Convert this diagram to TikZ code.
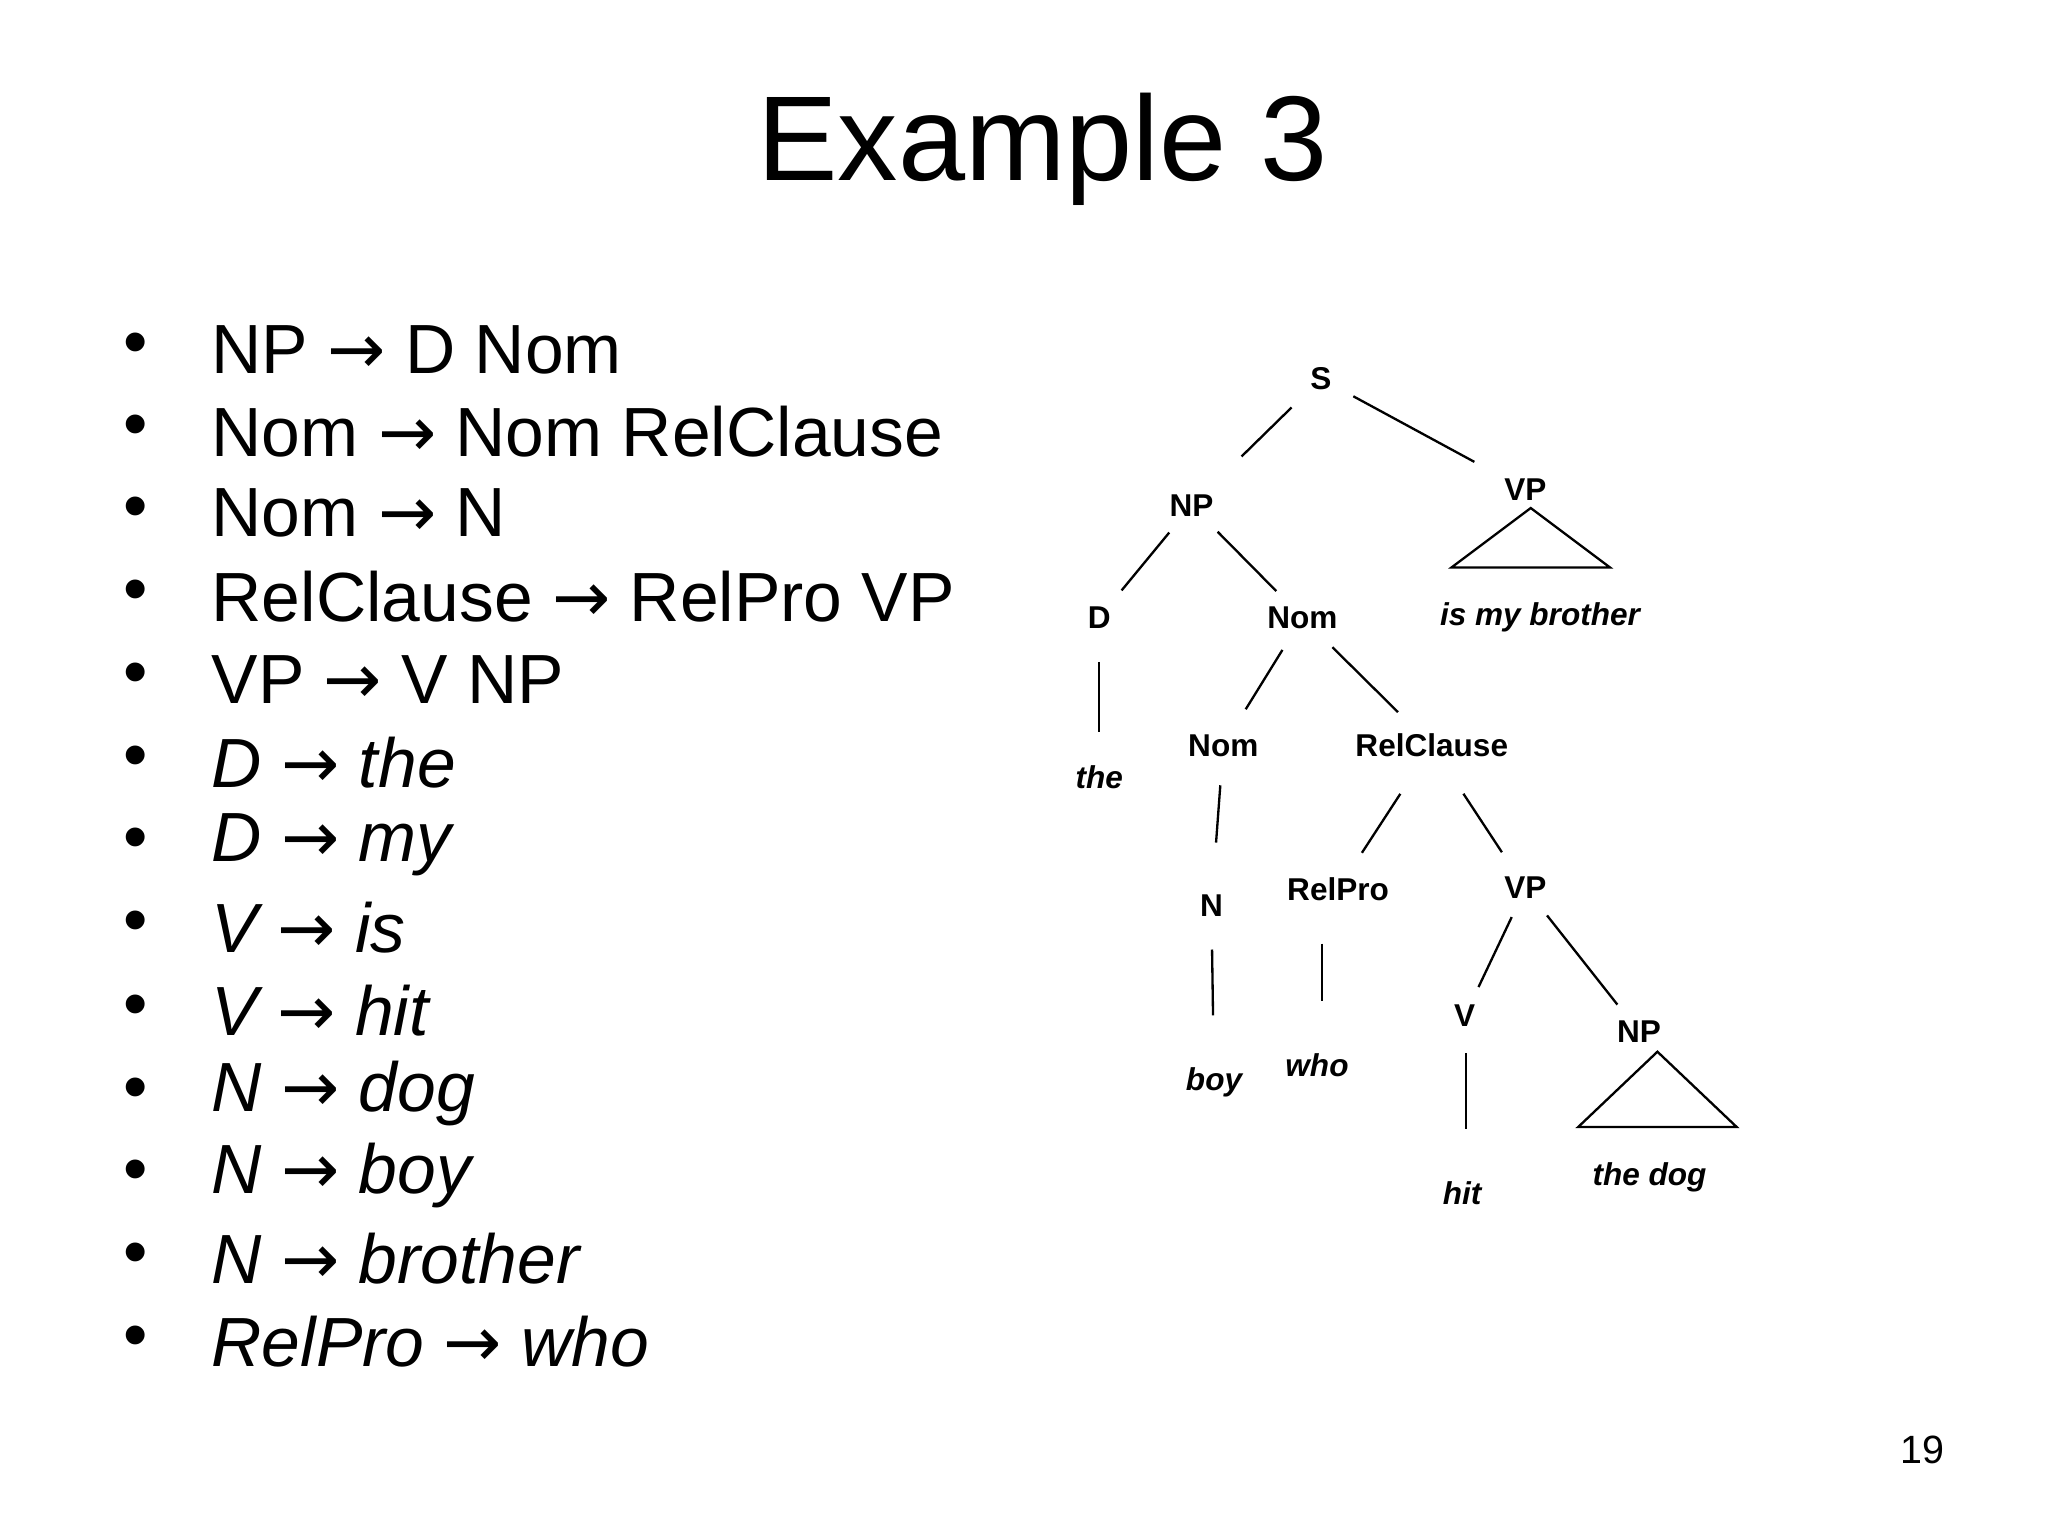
\documentclass[tikz,border=0pt]{standalone}
\usepackage{fontspec}
\setmainfont{Liberation Sans}
\newfontfamily\arrfont{DejaVu Sans}
\newcommand{\ar}{{\arrfont →}}
\begin{document}
\begin{tikzpicture}[x=0.01cm,y=-0.01cm,
  tl/.style={font=\fontsize{6.8}{8}\selectfont\bfseries,inner sep=1pt},
  tw/.style={font=\fontsize{6.8}{8}\selectfont\bfseries\itshape,inner sep=1pt},
  rule/.style={anchor=west,font=\fontsize{15}{18}\selectfont},
  bul/.style={font=\fontsize{15}{18}\selectfont},
  ed/.style={shorten <=3pt,shorten >=3pt}]
\useasboundingbox (0,0) rectangle (1552,1164);
\node (title) at (790,113) {\fontsize{26}{30}\selectfont Example 3};
\foreach \y/\t [count=\i] in {265/NP \ar{} D Nom,327/Nom \ar{} Nom RelClause,389/Nom \ar{} N,452/RelClause \ar{} RelPro VP,515/VP \ar{} V NP,578/\textit{D \ar{} the},640/\textit{D \ar{} my},703/\textit{V \ar{} is},766/\textit{V \ar{} hit},829/\textit{N \ar{} dog},891/\textit{N \ar{} boy},954/\textit{N \ar{} brother},1017/\textit{RelPro \ar{} who}}{
  \node[bul] (b\i) at (103,\y) {•};
  \node[rule] (r\i) at (148,\y) {\t};
}
\node (pg) at (1457,1099) {\fontsize{8.5}{10}\selectfont 19};
% tree
\node[tl] (S) at (1001,287) {S};
\node[tl] (NP) at (903,383) {NP};
\node[tl] (VP) at (1156,371) {VP};
\node[tl] (D) at (833,468) {D};
\node[tl] (Nom) at (987,468) {Nom};
\node[tw] (imb) at (1167,468) {is my brother};
\node[tw] (the) at (833,589) {the};
\node[tl] (Nom2) at (927,565) {Nom};
\node[tl] (RC) at (1085,565) {RelClause};
\node[tl] (N) at (918,686) {N};
\node[tw] (boy) at (920,820) {boy};
\node[tl] (RP) at (1014,674) {RelPro};
\node[tl] (VP2) at (1156,673) {VP};
\node[tw] (who) at (998,807) {who};
\node[tl] (V) at (1110,770) {V};
\node[tl] (NP2) at (1242,782) {NP};
\node[tw] (hit) at (1108,904) {hit};
\node[tw] (dog) at (1250,892) {the dog};
\coordinate (t1a) at (1160,385);\coordinate (t1b) at (1100,430);\coordinate (t1c) at (1220,430);
\coordinate (t2a) at (1256,797);\coordinate (t2b) at (1196,854);\coordinate (t2c) at (1316,854);
\begin{scope}[line width=0.5pt]
\draw (t1a) -- (t1b) -- (t1c) -- cycle;
\draw (t2a) -- (t2b) -- (t2c) -- cycle;
\draw[shorten <=4pt,shorten >=10pt] (S) -- (NP);
\draw[shorten <=4pt,shorten >=6pt] (S) -- (VP);
\draw[ed] (NP) -- (D);
\draw[ed] (NP) -- (Nom);
\draw[shorten <=6pt,shorten >=6pt] (D) -- (the);
\draw[shorten <=4pt,shorten >=5pt] (Nom) -- (Nom2);
\draw[shorten <=4pt,shorten >=5pt] (Nom) -- (RC);
\draw[shorten <=5pt,shorten >=10pt] (Nom2) -- (N);
\draw[shorten <=6pt,shorten >=10pt] (N) -- (boy);
\draw[shorten <=8pt,shorten >=5pt] (RC) -- (RP);
\draw[shorten <=8pt,shorten >=5pt] (RC) -- (VP2);
\draw[shorten <=8pt,shorten >=10pt] (RP.south) ++(-12,0) coordinate (rpx) (rpx) -- (who.north -| rpx);
\draw[ed] (VP2) -- (V);
\draw[ed] (VP2) -- (NP2);
\draw[shorten <=8pt,shorten >=10pt] (V) ++(1,0) coordinate (vx) (vx) -- (hit.north -| vx);
\end{scope}
\end{tikzpicture}
\end{document}
